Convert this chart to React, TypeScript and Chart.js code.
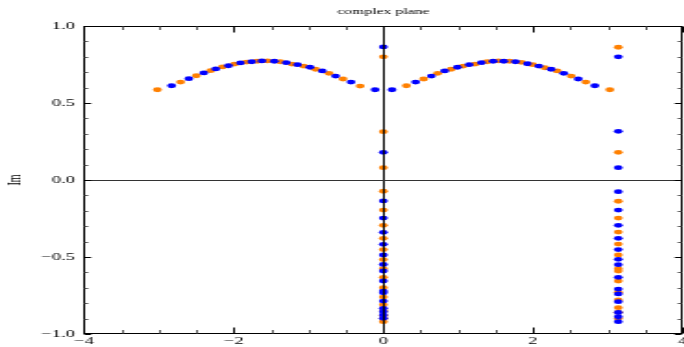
import React, { useEffect, useRef } from "react";
import { Chart, registerables } from "chart.js";

Chart.register(...registerables);

const OUT_W = 684;
const OUT_H = 347;
const STRETCH = OUT_W / 370;
const CANVAS_W = 373;

const chartTitle = "complex plane";
const yAxisTitle = "Im";
const xTickValues = [-4, -2, 0, 2, 4];
const yTickValues = [-1, -0.5, 0, 0.5, 1];

const ORANGE = "#ff8000";
const BLUE = "#0000ff";

const orangeArcRightX = [0.308, 0.539, 0.726, 0.906, 1.066, 1.227, 1.387, 1.538, 1.686, 1.846, 1.997, 2.158, 2.324, 2.511, 2.706, 3.027];
const orangeArcRightY = [0.612, 0.656, 0.693, 0.719, 0.740, 0.753, 0.768, 0.773, 0.771, 0.764, 0.749, 0.729, 0.708, 0.675, 0.636, 0.586];
const blueArcRightX = [0.116, 0.432, 0.642, 0.820, 0.990, 1.147, 1.311, 1.468, 1.609, 1.766, 1.926, 2.078, 2.243, 2.412, 2.605, 2.827];
const blueArcRightY = [0.586, 0.636, 0.675, 0.708, 0.732, 0.749, 0.762, 0.771, 0.771, 0.768, 0.755, 0.740, 0.719, 0.693, 0.656, 0.612];

const orangeArcLeftX = [-0.310, -0.539, -0.726, -0.906, -1.066, -1.221, -1.378, -1.548, -1.686, -1.830, -1.990, -2.150, -2.310, -2.500, -2.710, -3.020];
const orangeArcLeftY = [0.610, 0.656, 0.693, 0.719, 0.740, 0.753, 0.768, 0.773, 0.771, 0.766, 0.753, 0.734, 0.710, 0.677, 0.636, 0.586];
const blueArcLeftX = [-0.110, -0.432, -0.638, -0.816, -0.981, -1.147, -1.298, -1.458, -1.623, -1.760, -1.910, -2.070, -2.240, -2.400, -2.600, -2.830];
const blueArcLeftY = [0.586, 0.636, 0.675, 0.708, 0.732, 0.749, 0.762, 0.771, 0.773, 0.768, 0.760, 0.742, 0.721, 0.695, 0.658, 0.612];

const columnZeroX = 0;
const columnPiX = 3.14;
const orangeColZeroY = [0.80, 0.314, 0.080, -0.073, -0.195, -0.294, -0.379, -0.452, -0.517, -0.576, -0.632, -0.699, -0.760, -0.810, -0.850, -0.880, -0.900, -0.920];
const blueColZeroY = [0.864, 0.180, -0.136, -0.247, -0.340, -0.418, -0.487, -0.548, -0.591, -0.656, -0.721, -0.732, -0.786, -0.833, -0.855, -0.877, -0.898];
const blueColPiY = [0.80, 0.316, 0.080, -0.076, -0.195, -0.294, -0.379, -0.452, -0.515, -0.550, -0.632, -0.708, -0.740, -0.790, -0.860, -0.888, -0.920];
const orangeColPiY = [0.862, 0.180, -0.138, -0.247, -0.338, -0.416, -0.487, -0.576, -0.591, -0.656, -0.729, -0.779, -0.829, -0.859, -0.900];

const zip = (xs: number[], ys: number[]) => xs.map((x, i) => ({ x, y: ys[i] }));
const col = (x: number, ys: number[]) => ys.map((y) => ({ x, y }));

const minus = (s: string) => s.replace("-", "\u2212");

const framePlugin = {
  id: "framePlugin",
  afterDatasetsDraw(chart: any) {
    const { ctx, chartArea, scales } = chart;
    const { left, right, top, bottom } = chartArea;
    const xs = scales.x;
    const ys = scales.y;
    ctx.save();
    const line = (x1: number, y1: number, x2: number, y2: number) => {
      ctx.beginPath();
      ctx.moveTo(x1, y1);
      ctx.lineTo(x2, y2);
      ctx.stroke();
    };
    const snap = (v: number) => Math.round(v) + 0.5;
    const L = snap(left);
    const R = Math.round(right) - 0.5;
    const T = snap(top);
    const B = Math.round(bottom) - 0.5;
    ctx.lineWidth = 1;
    ctx.strokeStyle = "#000";
    const x0 = snap(xs.getPixelForValue(0));
    const y0 = snap(ys.getPixelForValue(0));
    line(x0, T, x0, B);
    ctx.strokeStyle = "#333";
    line(L, y0, R, y0);
    ctx.strokeStyle = "#000";
    ctx.strokeRect(L, T, R - L, B - T);
    for (let i = -8; i <= 8; i++) {
      const v = i / 2;
      const major = i % 4 === 0;
      const px = snap(xs.getPixelForValue(v));
      const len = major ? 6 : 3.5;
      ctx.strokeStyle = major ? "#000" : "#555";
      line(px, B, px, B - len);
      line(px, T, px, T + len);
    }
    for (let i = -10; i <= 10; i++) {
      const v = i / 10;
      const major = i % 5 === 0;
      const py = snap(ys.getPixelForValue(v));
      const len = (major ? 7 : 4) / STRETCH;
      ctx.strokeStyle = major ? "#000" : "#555";
      line(L, py, L + len, py);
      line(R, py, R - len, py);
    }
    ctx.fillStyle = "#000";
    ctx.font = '8.5px "Liberation Serif", serif';
    ctx.textAlign = "center";
    ctx.textBaseline = "alphabetic";
    ctx.fillText(chartTitle, (left + right) / 2, 14);
    ctx.restore();
  },
};

export default function App() {
  const canvasRef = useRef<HTMLCanvasElement | null>(null);

  useEffect(() => {
    document.body.style.margin = "0";
    const canvas = canvasRef.current;
    if (!canvas) return;
    const tickFont = { family: '"Liberation Serif", serif', size: 10 };
    const chart = new Chart(canvas, {
      type: "scatter",
      data: {
        datasets: [
          {
            label: "blue",
            data: [
              ...zip(blueArcLeftX, blueArcLeftY),
              ...zip(blueArcRightX, blueArcRightY),
              ...col(columnZeroX, blueColZeroY),
              ...col(columnPiX, blueColPiY),
            ],
            backgroundColor: BLUE,
            borderWidth: 0,
            pointRadius: 2.4,
          },
          {
            label: "orange",
            data: [
              ...zip(orangeArcLeftX, orangeArcLeftY),
              ...zip(orangeArcRightX, orangeArcRightY),
              ...col(columnZeroX, orangeColZeroY),
              ...col(columnPiX, orangeColPiY),
            ],
            backgroundColor: ORANGE,
            borderWidth: 0,
            pointRadius: 2.4,
          },
        ],
      },
      options: {
        animation: false,
        responsive: false,
        devicePixelRatio: 1,
        events: [],
        layout: { padding: { top: 26, right: 0, left: 0, bottom: 0 } },
        plugins: { legend: { display: false }, tooltip: { enabled: false }, title: { display: false } },
        scales: {
          x: {
            type: "linear",
            min: -4,
            max: 4,
            grid: { display: false, drawTicks: false },
            border: { display: false },
            ticks: {
              autoSkip: false,
              maxRotation: 0,
              padding: 1,
              color: "#000",
              font: tickFont,
              callback: (v: any) => minus(String(v)),
            },
            afterBuildTicks: (s: any) => {
              s.ticks = xTickValues.map((value) => ({ value }));
            },
            afterFit: (s: any) => {
              s.height = 13;
              s.paddingLeft = 0;
              s.paddingRight = 0;
            },
          },
          y: {
            type: "linear",
            min: -1,
            max: 1,
            grid: { display: false, drawTicks: false },
            border: { display: false },
            title: {
              display: true,
              text: yAxisTitle,
              color: "#000",
              font: { family: '"Liberation Serif", serif', size: 10 },
              padding: { top: 2, bottom: 0 },
            },
            ticks: {
              autoSkip: false,
              padding: 5,
              color: "#000",
              font: tickFont,
              callback: (v: any) => minus(Number(v).toFixed(1)),
            },
            afterBuildTicks: (s: any) => {
              s.ticks = yTickValues.map((value) => ({ value }));
            },
            afterFit: (s: any) => {
              s.width = 84 / STRETCH;
              s.paddingTop = 0;
              s.paddingBottom = 0;
            },
          },
        },
      },
      plugins: [framePlugin],
    } as any);
    return () => chart.destroy();
  }, []);

  return (
    <div style={{ width: OUT_W, height: OUT_H, overflow: "hidden", position: "relative" }}>
      <canvas
        ref={canvasRef}
        width={CANVAS_W}
        height={OUT_H}
        style={{ width: CANVAS_W * STRETCH + "px", height: OUT_H + "px", display: "block" }}
      />
    </div>
  );
}
